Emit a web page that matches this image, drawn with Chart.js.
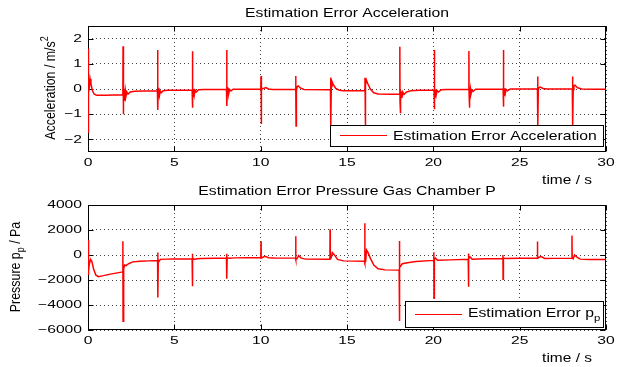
<!DOCTYPE html>
<html><head><meta charset="utf-8">
<script src="https://cdn.jsdelivr.net/npm/chart.js@4.4.1/dist/chart.umd.min.js"></script>
<style>
html,body{margin:0;padding:0;background:#fff;}
#wrap{position:relative;width:624px;height:367px;overflow:hidden;background:#fff;}
canvas{position:absolute;left:0;}
</style></head><body>
<div id="wrap">
<canvas id="c1" width="624" height="190" style="top:0"></canvas>
<canvas id="c2" width="624" height="187" style="top:180px"></canvas>
</div>
<script>
// ---------- data ----------
const xTicks = [0, 5, 10, 15, 20, 25, 30];
const accTicks = [-2, -1, 0, 1, 2];
const pressTicks = [-6000, -4000, -2000, 0, 2000, 4000];

const accTime = [0,0.005,0.02,0.035,0.05,0.08,0.12,0.17,0.25,0.35,0.5,1.0,1.5,2.02,
 2.03,2.04,2.05,2.07,2.09,2.11,2.13,2.16,2.2,2.25,2.32,2.45,2.7,3.2,4.02,
 4.03,4.04,4.05,4.07,4.09,4.11,4.14,4.18,4.24,4.35,4.6,6.03,
 6.04,6.05,6.06,6.08,6.1,6.13,6.16,6.2,6.27,6.4,6.7,8.02,
 8.03,8.04,8.05,8.07,8.09,8.12,8.15,8.2,8.28,8.4,10.01,
 10.02,10.03,10.04,10.06,10.1,10.2,10.3,10.45,10.7,12.02,
 12.03,12.04,12.05,12.07,12.12,12.18,12.3,12.5,14.04,
 14.05,14.06,14.07,14.09,14.13,14.2,14.35,14.55,14.8,16.03,
 16.04,16.05,16.06,16.08,16.12,16.2,16.35,16.55,16.8,17.5,18.05,
 18.06,18.07,18.08,18.1,18.12,18.15,18.18,18.23,18.3,18.45,18.7,19.2,20.04,
 20.05,20.06,20.07,20.09,20.11,20.14,20.17,20.22,20.3,20.45,20.8,22.05,
 22.06,22.07,22.08,22.1,22.12,22.15,22.18,22.23,22.3,22.45,24.04,
 24.05,24.06,24.07,24.09,24.11,24.14,24.17,24.22,24.3,24.45,26.03,
 26.04,26.05,26.06,26.08,26.13,26.2,26.35,26.6,28.05,
 28.06,28.07,28.08,28.1,28.14,28.2,28.35,28.6,29.2,30];
const accError = [1.6,-1.75,0.9,-0.6,0.3,0.1,0.4,0.2,-0.05,-0.2,-0.25,-0.25,-0.24,-0.23,
 1.7,-0.3,-1.0,0.05,-0.45,0.0,-0.35,-0.05,-0.28,-0.12,-0.2,-0.12,-0.09,-0.08,-0.07,
 1.55,-0.2,-0.83,0.05,-0.35,-0.02,-0.25,-0.08,-0.15,-0.07,-0.05,-0.04,
 1.5,-0.2,-0.74,0.05,-0.3,0.0,-0.22,-0.05,-0.12,-0.03,-0.02,-0.01,
 1.55,-0.2,-0.67,0.08,-0.25,0.03,-0.18,-0.02,-0.08,-0.01,0,
 0.52,-0.1,-1.39,-0.05,0.02,0.03,0.06,0.0,-0.02,-0.02,
 0.52,-0.1,-1.47,-0.05,0.1,0.12,0.04,-0.02,-0.03,
 0.46,-0.1,-1.5,0.1,0.3,0.18,0.02,-0.05,-0.07,-0.07,
 0.45,-0.1,-1.55,0.15,0.36,0.22,0.0,-0.15,-0.2,-0.21,-0.2,
 1.68,-0.5,-0.96,-0.05,-0.45,-0.1,-0.35,-0.12,-0.22,-0.12,-0.07,-0.05,-0.04,
 1.55,-0.2,-0.8,0.03,-0.32,-0.02,-0.22,-0.06,-0.12,-0.03,-0.02,-0.02,
 1.51,-0.2,-0.74,0.03,-0.28,0.0,-0.2,-0.04,-0.1,-0.01,0,
 1.55,-0.2,-0.7,0.05,-0.25,0.03,-0.17,-0.02,-0.07,0,0,
 0.5,-0.1,-1.45,-0.03,0.06,0.08,0.02,0,0,
 0.5,-0.1,-1.45,-0.03,0.13,0.15,0.05,0.0,-0.01,-0.01];

const pressTime = [0,0.01,0.03,0.05,0.08,0.15,0.22,0.32,0.45,0.6,0.9,1.3,1.7,2.01,
 2.02,2.03,2.05,2.08,2.12,2.2,2.35,2.6,3.0,3.5,4.03,
 4.04,4.05,4.07,4.12,4.2,4.5,5.0,6.03,
 6.04,6.05,6.07,6.15,6.3,6.6,8.02,
 8.03,8.04,8.06,8.2,8.5,10.01,
 10.02,10.03,10.1,10.25,10.45,10.8,12.02,
 12.03,12.04,12.1,12.2,12.35,12.6,14.01,
 14.02,14.03,14.08,14.15,14.25,14.45,14.8,16.02,
 16.03,16.04,16.08,16.13,16.2,16.35,16.55,16.8,17.2,18.02,
 18.03,18.04,18.06,18.1,18.2,18.5,19.0,20.02,
 20.03,20.04,20.06,20.12,20.25,21.0,22.02,
 22.03,22.04,22.06,22.12,22.25,23.0,24.02,
 24.03,24.04,24.06,24.2,25.0,26.02,
 26.03,26.04,26.12,26.25,26.45,27.0,28.02,
 28.03,28.04,28.1,28.18,28.3,28.5,29.0,30];
const pressError = [1200,-1600,400,-1300,-700,-350,-500,-1100,-1600,-1730,-1650,-1530,-1430,-1350,
 1100,-5300,-900,-1100,-800,-850,-700,-550,-500,-470,-440,
 200,-3400,-400,-500,-350,-330,-320,-300,
 100,-2500,-250,-350,-300,-280,-250,
 100,-1900,-220,-250,-230,-200,
 1100,-250,-200,-100,-220,-240,-250,
 1500,-350,-300,-60,-250,-330,-340,
 2050,-300,-250,200,50,-350,-470,-500,
 2550,-600,-500,400,250,-250,-800,-1100,-1190,-1210,
 1130,-5280,-1000,-900,-700,-620,-520,-430,
 220,-3450,-350,-250,-420,-390,-350,
 120,-2540,-300,-150,-330,-300,-280,
 0,-1930,-250,-280,-260,-250,
 1080,-250,-180,-130,-280,-270,-260,
 1550,-200,-300,0,-150,-330,-360,-360];

// ---------- drawing helpers ----------
const FONT = '"Liberation Sans", Arial, Helvetica, sans-serif';
function fmt(v){ return v < 0 ? '\u2212' + Math.abs(v) : String(v); }
function txt(ctx, s, x, y, size, sx, align, base){
  ctx.save();
  ctx.translate(x, y); ctx.scale(sx, 1);
  ctx.font = size + 'px ' + FONT;
  ctx.textAlign = align; ctx.textBaseline = base;
  ctx.fillText(s, 0, 0);
  ctx.restore();
}
function rich(ctx, parts, x, y, size, center){
  const w = parts.map(p => { ctx.font = (p.mode ? size*0.72 : size) + 'px ' + FONT; return ctx.measureText(p.t).width; });
  const total = w.reduce((a,b)=>a+b,0);
  let cx = center ? x - total/2 : x;
  ctx.textAlign = 'left'; ctx.textBaseline = 'alphabetic';
  parts.forEach((p,i) => {
    ctx.font = (p.mode ? size*0.72 : size) + 'px ' + FONT;
    const dy = p.mode === 'sup' ? -size*0.42 : (p.mode === 'sub' ? size*0.3 : 0);
    ctx.fillText(p.t, cx, y + dy);
    cx += w[i];
  });
}

const decor = {
  id: 'decor',
  beforeDatasetsDraw(chart){
    const ctx = chart.ctx, a = chart.chartArea;
    const xs = chart.scales.x, ys = chart.scales.y;
    ctx.save();
    ctx.setLineDash([]);
    ctx.strokeStyle = '#000'; ctx.lineWidth = 1;
    const L = Math.round(a.left)+0.5, R = Math.round(a.right)-0.5, T = Math.round(a.top)+0.5, B = Math.round(a.bottom)-0.5;
    ctx.beginPath();
    xs.ticks.forEach(t => { const p = Math.round(xs.getPixelForValue(t.value))+0.5;
      ctx.moveTo(p,B); ctx.lineTo(p,B-5); ctx.moveTo(p,T); ctx.lineTo(p,T+5); });
    ys.ticks.forEach(t => { const p = Math.round(ys.getPixelForValue(t.value))+0.5;
      ctx.moveTo(L,p); ctx.lineTo(L+5,p); ctx.moveTo(R,p); ctx.lineTo(R-5,p); });
    ctx.stroke();
    ctx.strokeRect(L, T, R-L, B-T);
    ctx.restore();
  },
  afterDraw(chart, args, o){
    const ctx = chart.ctx, a = chart.chartArea;
    const xs = chart.scales.x, ys = chart.scales.y;
    ctx.save();
    ctx.setLineDash([]);
    ctx.fillStyle = '#000';
    xs.ticks.forEach(t => txt(ctx, fmt(t.value), xs.getPixelForValue(t.value), o.xLabelY, 11.5, 1.36, 'center', 'middle'));
    ys.ticks.forEach(t => txt(ctx, fmt(t.value), a.left-6, ys.getPixelForValue(t.value), 11.5, 1.36, 'right', 'middle'));
    txt(ctx, o.title, (a.left+a.right)/2, o.titleY, 12.6, 1.25, 'center', 'alphabetic');
    txt(ctx, 'time / s', 592, o.xTitleY, 12.4, 1.25, 'right', 'alphabetic');
    ctx.save();
    ctx.translate(o.yTitleX, o.yTitleY); ctx.scale(1.25, 1); ctx.rotate(-Math.PI/2);
    rich(ctx, o.yTitle, 0, 0, 12.4, true);
    ctx.restore();
    const g = o.legend;
    ctx.fillStyle = '#fff';
    ctx.fillRect(g.x, g.y, g.w, g.h);
    ctx.strokeStyle = '#000'; ctx.lineWidth = 1;
    ctx.strokeRect(g.x+0.5, g.y+0.5, g.w, g.h);
    ctx.strokeStyle = '#ff0000'; ctx.lineWidth = 1.2;
    ctx.beginPath(); ctx.moveTo(g.x+10, g.lineY); ctx.lineTo(g.x+57, g.lineY); ctx.stroke();
    ctx.fillStyle = '#000';
    ctx.save();
    ctx.translate(g.textX, g.textY); ctx.scale(1.25, 1);
    rich(ctx, g.text, 0, 0, 12.6, false);
    ctx.restore();
    ctx.restore();
  }
};

function makeChart(id, times, values, yMin, yMax, yTicksArr, opts){
  const pts = times.map((t,i) => ({x: t, y: values[i]}));
  return new Chart(document.getElementById(id), {
    type: 'scatter',
    data: { datasets: [{ data: pts, showLine: true, borderColor: '#ff0000', borderWidth: 1.5,
      pointRadius: 0, pointHoverRadius: 0, tension: 0, fill: false }] },
    options: {
      responsive: false, animation: false, events: [],
      layout: { padding: { left: 0, right: 18, top: opts.padTop, bottom: 0 } },
      plugins: { legend: { display: false }, tooltip: { enabled: false }, title: { display: false }, decor: opts },
      scales: {
        x: { type: 'linear', min: 0, max: 30,
          afterBuildTicks: s => { s.ticks = xTicks.map(v => ({value: v})); },
          afterFit: s => { s.height = opts.xHeight; },
          ticks: { display: false },
          grid: { color: 'rgba(0,0,0,0.75)', lineWidth: 1, drawTicks: false },
          border: { display: false, dash: [1, 3] } },
        y: { type: 'linear', min: yMin, max: yMax,
          afterBuildTicks: s => { s.ticks = yTicksArr.map(v => ({value: v})); },
          afterFit: s => { s.width = 88; },
          ticks: { display: false },
          grid: { color: 'rgba(0,0,0,0.75)', lineWidth: 1, drawTicks: false },
          border: { display: false, dash: [1, 3] } }
      }
    },
    plugins: [decor]
  });
}

makeChart('c1', accTime, accError, -2.5, 2.5, accTicks, {
  padTop: 26, xHeight: 38, xLabelY: 163.3, titleY: 17.3, xTitleY: 184,
  title: 'Estimation Error Acceleration',
  yTitleX: 55, yTitleY: 88, yTitle: [{t: 'Acceleration / m/s'}, {t: '2', mode: 'sup'}],
  legend: { x: 330, y: 125, w: 273, h: 21, lineY: 135.5, textX: 393, textY: 139.5,
    text: [{t: 'Estimation Error Acceleration'}] }
});
makeChart('c2', pressTime, pressError, -6000, 4000, pressTicks, {
  padTop: 25, xHeight: 37, xLabelY: 160.8, titleY: 15, xTitleY: 181.5,
  title: 'Estimation Error Pressure Gas Chamber P',
  yTitleX: 19.5, yTitleY: 87, yTitle: [{t: 'Pressure p'}, {t: 'p', mode: 'sub'}, {t: ' / Pa'}],
  legend: { x: 405, y: 121, w: 198, h: 26, lineY: 134.5, textX: 468, textY: 137,
    text: [{t: 'Estimation Error p'}, {t: 'p', mode: 'sub'}] }
});
</script>
</body></html>
